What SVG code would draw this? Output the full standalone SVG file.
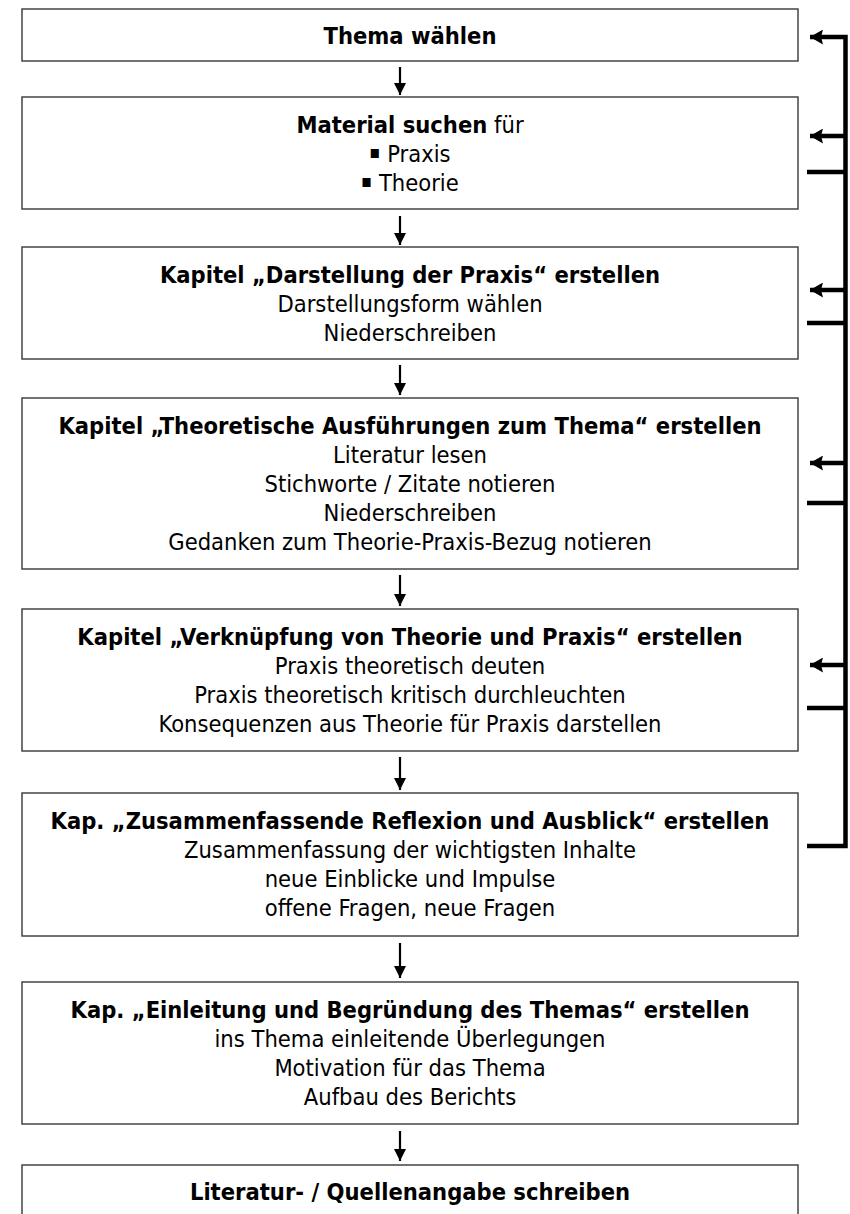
<svg xmlns="http://www.w3.org/2000/svg" width="850" height="1214" viewBox="0 0 850 1214">
<style>
.box{fill:#fff;stroke:#444;stroke-width:1.5}
text{font-family:"DejaVu Sans Condensed","DejaVu Sans",sans-serif;font-stretch:condensed;font-size:23.5px;fill:#000;text-anchor:middle}
.b{font-weight:bold}
.bl{font-size:18px}
.dn{stroke:#000;stroke-width:2.2;fill:none}
.fb{stroke:#000;stroke-width:4.5;fill:none}
</style>
<defs>
<marker id="ah" markerUnits="userSpaceOnUse" markerWidth="12" markerHeight="12" refX="10" refY="5" orient="auto" viewBox="0 0 10 10">
<path d="M0,0 L10,5 L0,10 Z" fill="#000"/>
</marker>
<marker id="fh" markerUnits="userSpaceOnUse" markerWidth="13" markerHeight="15" refX="13" refY="7.5" orient="auto" viewBox="0 0 13 15">
<path d="M0,0 L13,7.5 L0,15 L2,7.5 Z" fill="#000"/>
</marker>
</defs>
<rect width="850" height="1214" fill="#fff"/>
<g id="n1"><rect class="box" x="22" y="9" width="776" height="52"/>
<text class="b" x="410" y="44">Thema wählen</text></g>
<g id="n2"><rect class="box" x="22" y="97" width="776" height="112"/>
<text x="410" y="133"><tspan class="b">Material suchen</tspan> für</text>
<text x="410" y="162"><tspan class="bl" dy="-4">▪</tspan><tspan dy="4"> Praxis</tspan></text>
<text x="410" y="191"><tspan class="bl" dy="-4">▪</tspan><tspan dy="4"> Theorie</tspan></text></g>
<g id="n3"><rect class="box" x="22" y="247" width="776" height="112"/>
<text class="b" x="410" y="283">Kapitel „Darstellung der Praxis“ erstellen</text>
<text x="410" y="312">Darstellungsform wählen</text>
<text x="410" y="341">Niederschreiben</text></g>
<g id="n4"><rect class="box" x="22" y="398" width="776" height="171"/>
<text class="b" x="410" y="434">Kapitel „Theoretische Ausführungen zum Thema“ erstellen</text>
<text x="410" y="463">Literatur lesen</text>
<text x="410" y="492">Stichworte / Zitate notieren</text>
<text x="410" y="521">Niederschreiben</text>
<text x="410" y="550">Gedanken zum Theorie-Praxis-Bezug notieren</text></g>
<g id="n5"><rect class="box" x="22" y="609" width="776" height="142"/>
<text class="b" x="410" y="645">Kapitel „Verknüpfung von Theorie und Praxis“ erstellen</text>
<text x="410" y="674">Praxis theoretisch deuten</text>
<text x="410" y="703">Praxis theoretisch kritisch durchleuchten</text>
<text x="410" y="732">Konsequenzen aus Theorie für Praxis darstellen</text></g>
<g id="n6"><rect class="box" x="22" y="793" width="776" height="143"/>
<text class="b" x="410" y="829">Kap. „Zusammenfassende Reflexion und Ausblick“ erstellen</text>
<text x="410" y="858">Zusammenfassung der wichtigsten Inhalte</text>
<text x="410" y="887">neue Einblicke und Impulse</text>
<text x="410" y="916">offene Fragen, neue Fragen</text></g>
<g id="n7"><rect class="box" x="22" y="982" width="776" height="142"/>
<text class="b" x="410" y="1018">Kap. „Einleitung und Begründung des Themas“ erstellen</text>
<text x="410" y="1047">ins Thema einleitende Überlegungen</text>
<text x="410" y="1076">Motivation für das Thema</text>
<text x="410" y="1105">Aufbau des Berichts</text></g>
<g id="n8"><rect class="box" x="22" y="1165" width="776" height="80"/>
<text class="b" x="410" y="1200">Literatur- / Quellenangabe schreiben</text></g>
<g id="connectors">
<line class="dn" x1="400" y1="67" x2="400" y2="95" marker-end="url(#ah)"/>
<line class="dn" x1="400" y1="216" x2="400" y2="245" marker-end="url(#ah)"/>
<line class="dn" x1="400" y1="365" x2="400" y2="395" marker-end="url(#ah)"/>
<line class="dn" x1="400" y1="575" x2="400" y2="606" marker-end="url(#ah)"/>
<line class="dn" x1="400" y1="757" x2="400" y2="790" marker-end="url(#ah)"/>
<line class="dn" x1="400" y1="943" x2="400" y2="978" marker-end="url(#ah)"/>
<line class="dn" x1="400" y1="1131" x2="400" y2="1161" marker-end="url(#ah)"/>
<path class="fb" d="M807,846 H845.5 V37 H810" marker-end="url(#fh)"/>
<line class="fb" x1="845.5" y1="136" x2="810" y2="136" marker-end="url(#fh)"/>
<line class="fb" x1="845.5" y1="290" x2="810" y2="290" marker-end="url(#fh)"/>
<line class="fb" x1="845.5" y1="463" x2="810" y2="463" marker-end="url(#fh)"/>
<line class="fb" x1="845.5" y1="665" x2="810" y2="665" marker-end="url(#fh)"/>
<line class="fb" x1="845.5" y1="172" x2="807" y2="172"/>
<line class="fb" x1="845.5" y1="323" x2="807" y2="323"/>
<line class="fb" x1="845.5" y1="503" x2="807" y2="503"/>
<line class="fb" x1="845.5" y1="708" x2="807" y2="708"/>
</g>
</svg>
